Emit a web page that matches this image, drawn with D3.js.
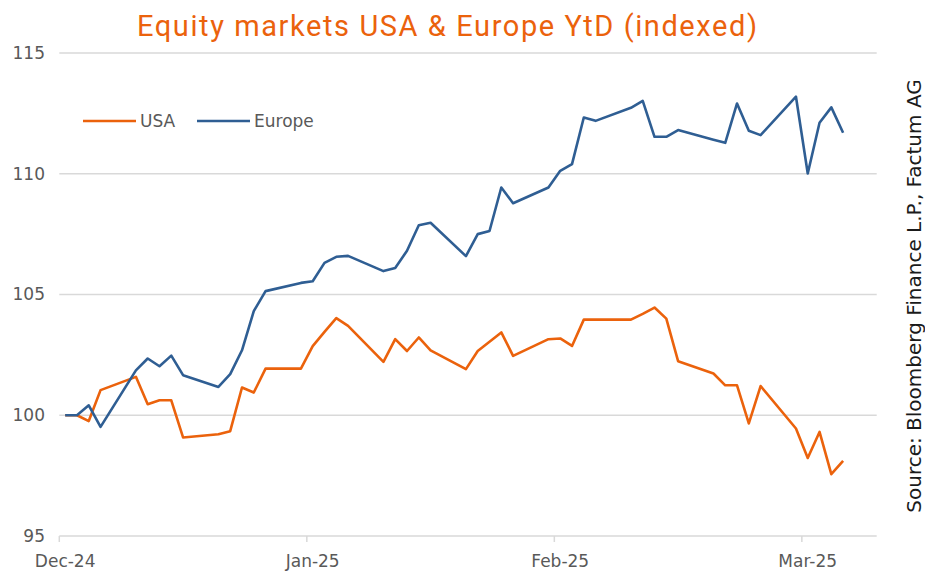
<!DOCTYPE html>
<html>
<head>
<meta charset="utf-8">
<script src="https://cdn.jsdelivr.net/npm/d3@7"></script>
<style>
  html, body { margin: 0; padding: 0; background: #fff; }
  svg { display: block; }
</style>
</head>
<body>
<svg id="chart"></svg>
<script>
// trading days, YtD indexed to 100 on 31 Dec 2024
const dates = [
  "2024-12-31", "2025-01-01", "2025-01-02", "2025-01-03",
  "2025-01-06", "2025-01-07", "2025-01-08", "2025-01-09", "2025-01-10",
  "2025-01-13", "2025-01-14", "2025-01-15", "2025-01-16", "2025-01-17",
  "2025-01-20", "2025-01-21", "2025-01-22", "2025-01-23", "2025-01-24",
  "2025-01-27", "2025-01-28", "2025-01-29", "2025-01-30", "2025-01-31",
  "2025-02-03", "2025-02-04", "2025-02-05", "2025-02-06", "2025-02-07",
  "2025-02-10", "2025-02-11", "2025-02-12", "2025-02-13", "2025-02-14",
  "2025-02-17", "2025-02-18", "2025-02-19", "2025-02-20", "2025-02-21",
  "2025-02-24", "2025-02-25", "2025-02-26", "2025-02-27", "2025-02-28",
  "2025-03-03", "2025-03-04", "2025-03-05", "2025-03-06", "2025-03-07"
];

const usa = [
  100.00, 100.00, 99.76, 101.04,
  101.59, 100.46, 100.62, 100.62, 99.08,
  99.21, 99.34, 101.15, 100.94, 101.93,
  101.93, 102.86, 103.45, 104.02, 103.70,
  102.21, 103.15, 102.66, 103.22, 102.69,
  101.91, 102.66, 103.04, 103.43, 102.46,
  103.15, 103.18, 102.87, 103.96, 103.96,
  103.96, 104.20, 104.46, 104.00, 102.24,
  101.73, 101.24, 101.24, 99.66, 101.21,
  99.45, 98.23, 99.31, 97.56, 98.11
];

const europe = [
  100.00, 100.00, 100.41, 99.52,
  101.86, 102.35, 102.03, 102.47, 101.66,
  101.17, 101.70, 102.69, 104.31, 105.14,
  105.48, 105.55, 106.31, 106.56, 106.60,
  105.97, 106.10, 106.81, 107.87, 107.97,
  106.59, 107.50, 107.63, 109.43, 108.78,
  109.43, 110.12, 110.40, 112.33, 112.19,
  112.73, 113.02, 111.53, 111.53, 111.81,
  111.41, 111.28, 112.91, 111.78, 111.60,
  113.19, 110.01, 112.11, 112.75, 111.70
];

const xLabelDates = ["2024-12-31", "2025-01-21", "2025-02-11", "2025-03-04"];
const yTicks = [95, 100, 105, 110, 115];

const seriesList = [
  { name: "USA", values: usa, color: "#EB620C" },
  { name: "Europe", values: europe, color: "#2F5E93" }
];

const width = 925, height = 571;
const parse = d3.timeParse("%Y-%m-%d");
const DAY = 864e5;

const svg = d3.select("#chart").attr("width", width).attr("height", height);

// each day is a slot, points sit in the middle of their slot
const start = new Date(parse(dates[0]).getTime() - DAY / 2);
const end = new Date(start.getTime() + 69.35 * DAY);

const x = d3.scaleTime().domain([start, end]).range([59.3, 876.7]);
const y = d3.scaleLinear().domain([95, 115]).range([536, 53]);

// gridlines
svg.append("g")
  .selectAll("line")
  .data(yTicks)
  .join("line")
  .attr("x1", x.range()[0])
  .attr("x2", x.range()[1])
  .attr("y1", d => y(d))
  .attr("y2", d => y(d))
  .attr("stroke", "#d9d9d9")
  .attr("stroke-width", 1.5);

// y axis labels
svg.append("g")
  .selectAll("text")
  .data(yTicks)
  .join("text")
  .attr("x", 45)
  .attr("y", d => y(d))
  .attr("dy", "0.35em")
  .attr("text-anchor", "end")
  .attr("font-family", "DejaVu Sans")
  .attr("font-size", 17)
  .attr("fill", "#595959")
  .text(d => d);

// x axis: tick marks at slot edge, labels under the day
const fmt = d3.timeFormat("%b-%y");
const xg = svg.append("g");
xg.selectAll("line")
  .data(xLabelDates)
  .join("line")
  .attr("x1", d => x(new Date(parse(d).getTime() - DAY / 2)))
  .attr("x2", d => x(new Date(parse(d).getTime() - DAY / 2)))
  .attr("y1", y(95))
  .attr("y2", y(95) + 6)
  .attr("stroke", "#d9d9d9")
  .attr("stroke-width", 1.5);
xg.selectAll("text")
  .data(xLabelDates)
  .join("text")
  .attr("x", d => x(parse(d)))
  .attr("y", 567)
  .attr("text-anchor", "middle")
  .attr("font-family", "DejaVu Sans")
  .attr("font-size", 17)
  .attr("fill", "#595959")
  .text(d => fmt(parse(d)));

// lines
const line = d3.line()
  .x((d, i) => x(parse(dates[i])))
  .y(d => y(d));

svg.append("g")
  .selectAll("path")
  .data(seriesList)
  .join("path")
  .attr("d", d => line(d.values))
  .attr("fill", "none")
  .attr("stroke", d => d.color)
  .attr("stroke-width", 2.6)
  .attr("stroke-linejoin", "round");

// legend
const legend = svg.append("g");
const legendX = [83, 197];
seriesList.forEach((s, i) => {
  legend.append("line")
    .attr("x1", legendX[i])
    .attr("x2", legendX[i] + 53)
    .attr("y1", 121)
    .attr("y2", 121)
    .attr("stroke", s.color)
    .attr("stroke-width", 2.6);
  legend.append("text")
    .attr("x", legendX[i] + 57)
    .attr("y", 121)
    .attr("dy", "0.35em")
    .attr("font-family", "DejaVu Sans")
    .attr("font-size", 17)
    .attr("fill", "#595959")
    .text(s.name);
});

// title
svg.append("text")
  .attr("x", 447)
  .attr("y", 36)
  .attr("text-anchor", "middle")
  .attr("font-family", "Roboto")
  .attr("font-size", 29)
  .attr("textLength", 620)
  .attr("lengthAdjust", "spacing")
  .attr("fill", "#EB620C")
  .text("Equity markets USA & Europe YtD (indexed)");

// source note
svg.append("text")
  .attr("transform", "translate(921,296) rotate(-90)")
  .attr("text-anchor", "middle")
  .attr("font-family", "DejaVu Sans")
  .attr("font-size", 20)
  .attr("fill", "#1a1a1a")
  .text("Source: Bloomberg Finance L.P., Factum AG");
</script>
</body>
</html>
